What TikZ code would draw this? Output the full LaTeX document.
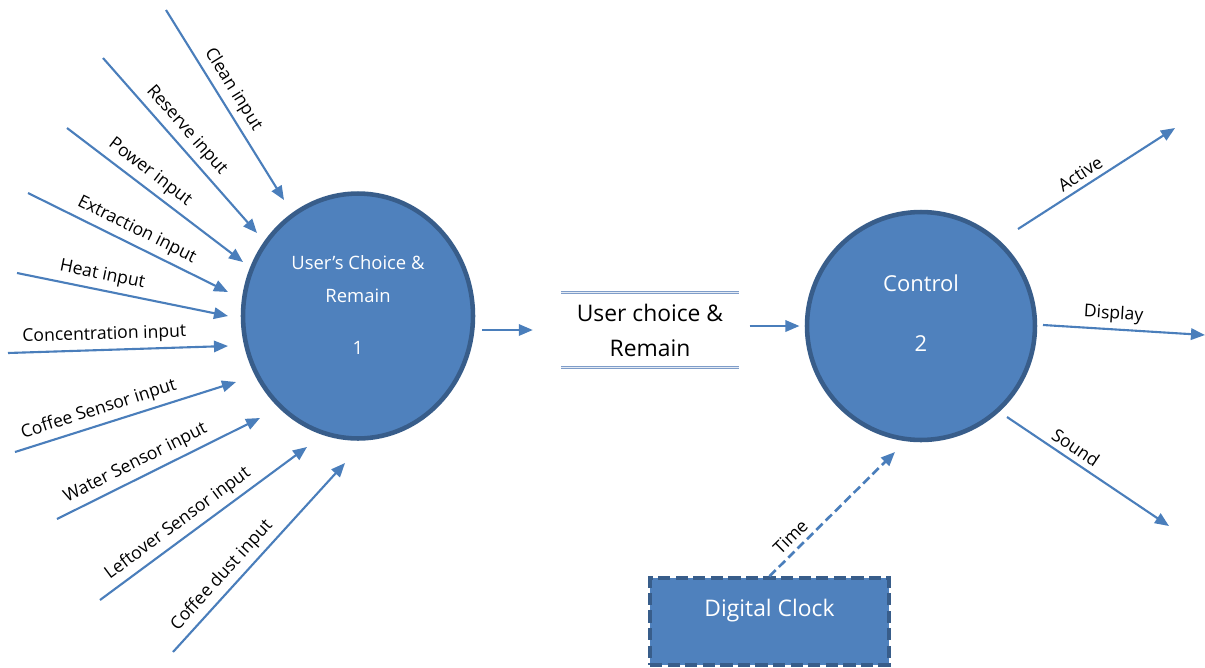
\documentclass[tikz,border=0pt]{standalone}
\usepackage{fontspec}
\setmainfont{Open Sans}
\usetikzlibrary{arrows.meta,shapes.geometric}

\definecolor{procfill}{HTML}{4F81BD}
\definecolor{procborder}{HTML}{385D8A}
\definecolor{flowblue}{HTML}{4A7EBB}
\definecolor{storeblue}{HTML}{7F9DC9}

\tikzset{
	flow/.style={draw=flowblue, line width=1.2pt, -{Triangle[length=8pt,width=6.5pt]}},
	flowlabel/.style={font=\fontsize{10}{12}\selectfont, sloped, above, inner sep=3pt},
	process/.style={ellipse, fill=procfill, draw=procborder, line width=2.6pt},
	proctext/.style={text=white, align=center},
	storeline/.style={draw=storeblue, line width=0.5pt, double=white!80!storeblue, double distance=0.6pt},
	clockbox/.style={rectangle, fill=procfill, draw=procborder, line width=2pt,
		dash pattern=on 7pt off 3pt}
}

\begin{document}
\begin{tikzpicture}[x=0.02cm, y=-0.02cm]
	\useasboundingbox (0,0) rectangle (1205,667);

	%%% Процессы и хранилище
	\node[process, minimum width=4.6cm, minimum height=4.9cm] (choice) at (358,316) {};
	\node[proctext, font=\fontsize{10.5}{19}\selectfont] (choiceTxt) at (358,279) {User’s Choice \&\\Remain};
	\node[proctext, font=\fontsize{10.5}{12}\selectfont] (choiceNum) at (358,348) {1};

	\node[process, minimum width=4.56cm, minimum height=4.56cm] (control) at (921,326) {};
	\node[proctext, font=\fontsize{12.5}{14}\selectfont] (controlTxt) at (921,283) {Control};
	\node[proctext, font=\fontsize{12.5}{14}\selectfont] (controlNum) at (921,344) {2};

	\node[align=center, minimum width=3.55cm, minimum height=1.5cm, inner sep=0pt,
		font=\fontsize{13}{20}\selectfont] (store) at (650,330) {User choice \&\\Remain};
	\draw[storeline] (store.north west) -- (store.north east);
	\draw[storeline] (store.south west) -- (store.south east);

	\node[clockbox, minimum width=4.78cm, minimum height=1.74cm] (clock) at (769.5,621.5) {};
	\node[proctext, font=\fontsize{13}{15}\selectfont] (clockTxt) at (769.5,611) {Digital Clock};

	%%% Входы
	\coordinate (cleanA) at (166,10);    \coordinate (cleanB) at (284,200);
	\coordinate (reserveA) at (103,58);  \coordinate (reserveB) at (257,233);
	\coordinate (powerA) at (67,128);    \coordinate (powerB) at (243,262);
	\coordinate (extrA) at (28,193);     \coordinate (extrB) at (228,292);
	\coordinate (heatA) at (17,273);     \coordinate (heatB) at (228,316);
	\coordinate (concA) at (8,353);      \coordinate (concB) at (228,346);
	\coordinate (coffA) at (15,452);     \coordinate (coffB) at (236,382);
	\coordinate (waterA) at (57,519);    \coordinate (waterB) at (260,418);
	\coordinate (leftA) at (100,600);    \coordinate (leftB) at (307,447);
	\coordinate (dustA) at (173,652);    \coordinate (dustB) at (345,463);

	\draw[flow] (cleanA) -- node[flowlabel, pos=0.46] {Clean input} (cleanB);
	\draw[flow] (reserveA) -- node[flowlabel, pos=0.47] {Reserve input} (reserveB);
	\draw[flow] (powerA) -- node[flowlabel, pos=0.42] {Power input} (powerB);
	\draw[flow] (extrA) -- node[flowlabel, pos=0.51] {Extraction input} (extrB);
	\draw[flow] (heatA) -- node[flowlabel, pos=0.39] {Heat input} (heatB);
	\draw[flow] (concA) -- node[flowlabel, pos=0.44] {Concentration input} (concB);
	\draw[flow] (coffA) -- node[flowlabel, pos=0.40] {Coffee Sensor input} (coffB);
	\draw[flow] (waterA) -- node[flowlabel, pos=0.42] {Water Sensor input} (waterB);
	\draw[flow] (leftA) -- node[flowlabel, pos=0.42] {Leftover Sensor input} (leftB);
	\draw[flow] (dustA) -- node[flowlabel, pos=0.35] {Coffee dust input} (dustB);

	%%% Потоки между процессами
	\draw[flow, shorten <=4pt, shorten >=16pt] (choice.east |- store.west) -- (store.west);
	\draw[flow, shorten <=6pt, shorten >=3pt] (store.east |- control.west) -- (control.west);

	\coordinate (timeB) at (895,452);
	\draw[flow, line width=1.5pt, dash pattern=on 5pt off 2.5pt] (clock.north) -- node[flowlabel, pos=0.24] {Time} (timeB);

	%%% Выходы
	\coordinate (activeA) at (1018,229);  \coordinate (activeB) at (1175,128);
	\coordinate (dispA) at (1043,325);    \coordinate (dispB) at (1205,335);
	\coordinate (soundA) at (1007,417);   \coordinate (soundB) at (1169,526);

	\draw[flow] (activeA) -- node[flowlabel, pos=0.44] {Active} (activeB);
	\draw[flow] (dispA) -- node[flowlabel, pos=0.43] {Display} (dispB);
	\draw[flow] (soundA) -- node[flowlabel, pos=0.38] {Sound} (soundB);
\end{tikzpicture}
\end{document}
